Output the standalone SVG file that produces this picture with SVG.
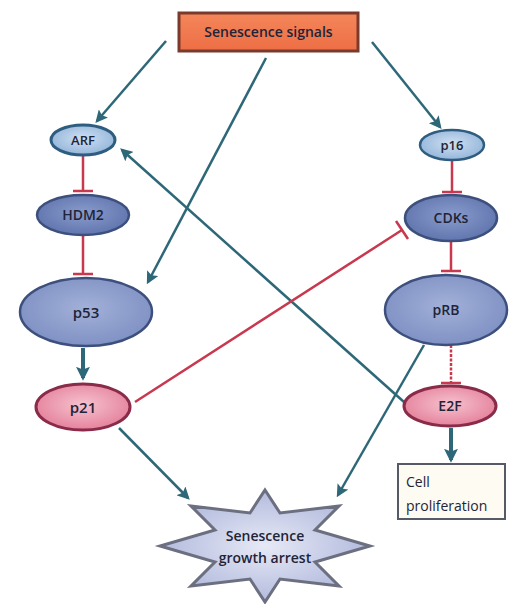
<svg xmlns="http://www.w3.org/2000/svg" width="516" height="604" viewBox="0 0 516 604">
<defs>
<style>
text{font-family:"Open Sans","Liberation Sans",sans-serif;text-anchor:middle;fill:#1f2438;font-weight:600;}
.act{stroke:#2e6878;stroke-width:2.5;fill:none;}
.thick{stroke:#2e6878;stroke-width:4;fill:none;}
.inh{stroke:#c8384e;stroke-width:2.5;fill:none;}
.blue{stroke:#3d4f7c;stroke-width:2.5;}
.pink{stroke:#8a2b4a;stroke-width:3;fill:url(#gPink);}
</style>
<radialGradient id="gLight" cx="0.5" cy="0.45" r="0.6"><stop offset="0" stop-color="#cfe0f2"/><stop offset="1" stop-color="#8fb2d8"/></radialGradient>
<radialGradient id="gMid" cx="0.5" cy="0.45" r="0.6"><stop offset="0" stop-color="#8a9ccc"/><stop offset="1" stop-color="#5d72ac"/></radialGradient>
<radialGradient id="gBig" cx="0.5" cy="0.45" r="0.6"><stop offset="0" stop-color="#a2b1d8"/><stop offset="1" stop-color="#7c8ec2"/></radialGradient>
<radialGradient id="gPink" cx="0.5" cy="0.45" r="0.6"><stop offset="0" stop-color="#f6c2cf"/><stop offset="1" stop-color="#e37c97"/></radialGradient>
<radialGradient id="gStar" cx="0.5" cy="0.5" r="0.6"><stop offset="0" stop-color="#e6e9f6"/><stop offset="1" stop-color="#a9b2d8"/></radialGradient>
<linearGradient id="gOrange" x1="0" y1="0" x2="0" y2="1"><stop offset="0" stop-color="#f4865a"/><stop offset="1" stop-color="#ee6e45"/></linearGradient>
<marker id="arr" viewBox="0 0 10 10" refX="8" refY="5" markerWidth="5" markerHeight="5" orient="auto" markerUnits="strokeWidth">
<path d="M0,0 L10,5 L0,10 L2,5 Z" fill="#2e6878"/>
</marker>
<marker id="arrT" viewBox="0 0 10 10" refX="8" refY="5" markerWidth="3.5" markerHeight="3.5" orient="auto" markerUnits="strokeWidth">
<path d="M0,0 L10,5 L0,10 L2,5 Z" fill="#2e6878"/>
</marker>
</defs>
<rect width="516" height="604" fill="#ffffff"/>

<g id="connectors">
<line class="act" x1="166" y1="41" x2="97" y2="121" marker-end="url(#arr)"/>
<line class="act" x1="266" y1="58" x2="148" y2="282" marker-end="url(#arr)"/>
<line class="act" x1="372" y1="42" x2="440" y2="127" marker-end="url(#arr)"/>
<line class="act" x1="404" y1="402" x2="122" y2="150" marker-end="url(#arr)"/>
<line class="act" x1="119" y1="428" x2="188" y2="498" marker-end="url(#arr)"/>
<line class="act" x1="424" y1="345" x2="338" y2="495" marker-end="url(#arr)"/>
<line class="thick" x1="83" y1="348" x2="83" y2="378" marker-end="url(#arrT)"/>
<line class="thick" x1="451" y1="428" x2="451" y2="460" marker-end="url(#arrT)"/>
<line class="inh" x1="83" y1="155" x2="83" y2="191"/>
<line class="inh" x1="73" y1="191" x2="93" y2="191"/>
<line class="inh" x1="83" y1="235" x2="83" y2="274"/>
<line class="inh" x1="73" y1="274" x2="93" y2="274"/>
<line class="inh" x1="452" y1="160" x2="452" y2="192"/>
<line class="inh" x1="442" y1="192" x2="462" y2="192"/>
<line class="inh" x1="451" y1="242" x2="451" y2="271"/>
<line class="inh" x1="441" y1="271" x2="461" y2="271"/>
<line class="inh" x1="451" y1="345" x2="451" y2="383" stroke-dasharray="3,1.5"/>
<line class="inh" x1="441" y1="383" x2="461" y2="383"/>
<line class="inh" x1="135" y1="402" x2="402" y2="230"/>
<line class="inh" x1="396" y1="221" x2="408" y2="239"/>
</g>

<g id="senescence-signals">
<rect x="179" y="13" width="179" height="38" fill="url(#gOrange)" stroke="#7a3a2c" stroke-width="3"/>
<text x="268.5" y="37" font-size="14" font-weight="bold">Senescence signals</text>
</g>

<g id="ARF">
<ellipse cx="83" cy="140" rx="32" ry="15" fill="url(#gLight)" stroke="#2e5d80" stroke-width="3"/>
<text x="83" y="145" font-size="13">ARF</text>
</g>

<g id="HDM2">
<ellipse cx="83" cy="215" rx="46" ry="20" fill="url(#gMid)" class="blue"/>
<text x="83" y="220" font-size="14">HDM2</text>
</g>

<g id="p53">
<ellipse cx="86" cy="312" rx="66" ry="34" fill="url(#gBig)" class="blue"/>
<text x="86" y="318" font-size="15">p53</text>
</g>

<g id="p21">
<ellipse cx="83" cy="407" rx="47" ry="23" class="pink"/>
<text x="83" y="413" font-size="15">p21</text>
</g>

<g id="p16">
<ellipse cx="452" cy="145" rx="32" ry="15" fill="url(#gLight)" stroke="#2e5d80" stroke-width="2.5"/>
<text x="452" y="150" font-size="13">p16</text>
</g>

<g id="CDKs">
<ellipse cx="451" cy="218" rx="46" ry="23" fill="url(#gMid)" class="blue"/>
<text x="451" y="223" font-size="14">CDKs</text>
</g>

<g id="pRB">
<ellipse cx="446" cy="310" rx="61" ry="35" fill="url(#gBig)" class="blue"/>
<text x="446" y="315" font-size="14">pRB</text>
</g>

<g id="E2F">
<ellipse cx="450" cy="406" rx="46" ry="20" class="pink" stroke-width="2.5"/>
<text x="450" y="411" font-size="14">E2F</text>
</g>

<g id="cell-proliferation">
<rect x="398" y="464" width="107" height="55" fill="#fdfbf2" stroke="#555a66" stroke-width="2"/>
<text x="406" y="487" font-size="14" font-weight="normal" style="text-anchor:start;font-weight:normal" fill="#3a3d48">Cell</text>
<text x="406" y="511" font-size="14" style="text-anchor:start;font-weight:normal" fill="#3a3d48">proliferation</text>
</g>

<g id="senescence-growth-arrest">
<polygon points="265,490 280,513 339,506 315,530 370,546 315,562 339,586 280,579 265,602 250,579 191,586 215,562 160,546 215,530 191,506 250,513" fill="url(#gStar)" stroke="#6c6f80" stroke-width="3" stroke-linejoin="miter"/>
<text x="265" y="541" font-size="14" fill="#2a2f55">Senescence</text>
<text x="265" y="563" font-size="14" fill="#2a2f55">growth arrest</text>
</g>
</svg>
